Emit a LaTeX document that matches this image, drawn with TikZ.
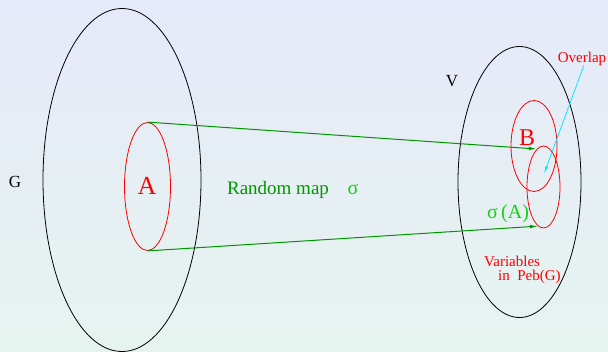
\documentclass[tikz,border=0pt]{standalone}
\usepackage{fontspec}
\setmainfont{Liberation Serif}
\usetikzlibrary{shapes.geometric,arrows.meta}
\definecolor{bgtop}{RGB}{230,233,249}
\definecolor{bgbot}{RGB}{230,244,239}
\definecolor{mapgreen}{RGB}{0,150,0}
\definecolor{sigreen}{RGB}{20,210,20}
\definecolor{ovcyan}{RGB}{0,235,255}
\tikzset{
  setell/.style={draw, ellipse, inner sep=0pt, line width=0.8pt},
  bigset/.style={setell, draw=black},
  subset/.style={setell, draw=red},
  maparrow/.style={draw=mapgreen, line width=1pt, -{Latex[length=8pt,width=3.5pt]}},
  lbl/.style={inner sep=0pt, anchor=center},
}
\begin{document}
\begin{tikzpicture}[x=1pt,y=-1pt]
\shade[top color=bgtop, bottom color=bgbot] (0,0) rectangle (608,351);
\useasboundingbox (0,0) rectangle (608,351);
% big sets
\node[bigset, minimum width=158pt, minimum height=343pt] (G) at (122,180) {};
\node[bigset, minimum width=123pt, minimum height=271pt] (V) at (519.5,182) {};
% subsets
\node[subset, minimum width=46pt, minimum height=128pt] (A) at (147.5,186.5) {};
\node[subset, minimum width=46pt, minimum height=91pt] (B) at (534,146) {};
\node[subset, minimum width=33pt, minimum height=82pt] (sA) at (543.5,187) {};
% labels
\node[lbl, font=\fontsize{17}{17}\selectfont] (Glbl) at (15,182) {G};
\node[lbl, font=\fontsize{17}{17}\selectfont] (Vlbl) at (452,81) {V};
\node[lbl, text=red, font=\fontsize{26}{26}\selectfont] (Albl) at (147,186) {A};
\node[lbl, text=red, font=\fontsize{24}{24}\selectfont] (Blbl) at (527,138) {B};
\node[lbl, text=sigreen, font=\fontsize{20}{20}\selectfont] (sAlbl) at (508,214) {σ\,(A)};
\node[lbl, text=mapgreen, font=\fontsize{19}{19}\selectfont] (rm) at (278,190) {Random map};
\node[lbl, text=sigreen, font=\fontsize{20}{20}\selectfont] (sig) at (353,189) {σ};
\node[lbl, text=red, font=\fontsize{15}{15}\selectfont] (ov) at (582,59) {Overlap};
\node[lbl, text=red, font=\fontsize{15}{15}\selectfont, align=left, anchor=north west] (vars) at (484,256) {Variables\\[-1pt]\hspace*{14pt}in\ \ Peb(G)};
% connectors
\coordinate (ovtip) at (544,174);
\coordinate (ovstart) at (584,65);
\draw[maparrow] (A.north) -- (sA.100);
\draw[maparrow] (A.south) -- (sA.262);
\draw[draw=ovcyan, line width=0.8pt, -{Latex[length=8pt,width=3pt]}] (ovstart) -- (ovtip);
\end{tikzpicture}
\end{document}
